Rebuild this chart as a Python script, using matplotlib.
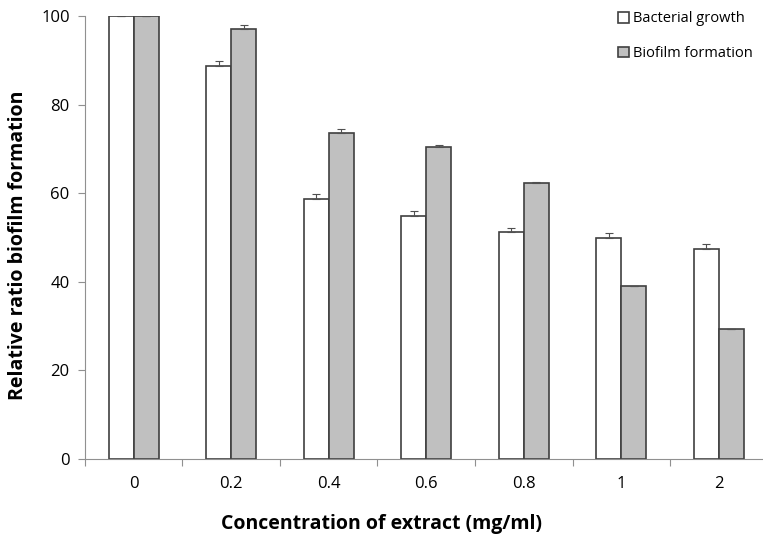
import matplotlib.pyplot as plt
import numpy as np

plt.rcParams['font.family'] = ['Open Sans', 'DejaVu Sans']

# concentrations and measured values
concentracoes = ['0', '0.2', '0.4', '0.6', '0.8', '1', '2']
crescimento = [100, 88.7, 58.8, 54.9, 51.2, 50.0, 47.5]
crescimento_err = [0, 1.1, 1.0, 1.0, 1.0, 1.0, 1.0]
biofilme = [100, 97.0, 73.6, 70.4, 62.3, 39.0, 29.3]
biofilme_err = [0, 1.0, 0.8, 0.5, 0.2, 0.1, 0.1]

x = np.arange(len(concentracoes))
w = 0.255

fig = plt.figure(figsize=(7.63, 5.34), dpi=100)
ax = fig.add_axes([0.1114, 0.1404, 0.8945, 0.8296])

ax.bar(x - w / 2, crescimento, w, color='white', edgecolor='#404040', linewidth=1.2,
       label='Bacterial growth')
ax.bar(x + w / 2, biofilme, w, color='#c0c0c0', edgecolor='#404040', linewidth=1.2,
       label='Biofilm formation')
ax.errorbar(x - w / 2, crescimento, yerr=[np.zeros(len(x)), crescimento_err], fmt='none',
            ecolor='#505050', elinewidth=0.8, capsize=3, capthick=0.8)
ax.errorbar(x + w / 2, biofilme, yerr=[np.zeros(len(x)), biofilme_err], fmt='none',
            ecolor='#505050', elinewidth=0.8, capsize=3, capthick=0.8)

ax.set_ylim(0, 100)
ax.set_xlim(-0.5, len(x) - 0.5)
ax.set_yticks(np.arange(0, 101, 20))

# ticks between categories, labels centred
ax.set_xticks(np.arange(-0.5, len(x), 1))
ax.set_xticklabels([])
ax.set_xticks(x, minor=True)
ax.set_xticklabels(concentracoes, minor=True)
ax.tick_params(axis='x', which='minor', length=0, pad=12, labelsize=12)
ax.tick_params(axis='x', which='major', length=5, color='#909090', direction='out')
ax.tick_params(axis='y', length=5, color='#909090', labelsize=12, pad=6)

for lado in ['top', 'right']:
    ax.spines[lado].set_visible(False)
ax.spines['left'].set_color('#909090')
ax.spines['bottom'].set_color('#909090')

ax.set_xlabel('Concentration of extract (mg/ml)', fontsize=14, fontweight='bold')
ax.xaxis.set_label_coords(0.434, -0.125)
ax.set_ylabel('Relative ratio biofilm formation', fontsize=14, fontweight='bold')
ax.yaxis.set_label_coords(-0.084, 0.483)

ax.legend(loc='upper right', bbox_to_anchor=(0.998, 1.04), frameon=False, fontsize=10.5,
          handlelength=0.75, handleheight=0.75, handletextpad=0.3, labelspacing=1.35)

fig.savefig('out.png', dpi=100)
